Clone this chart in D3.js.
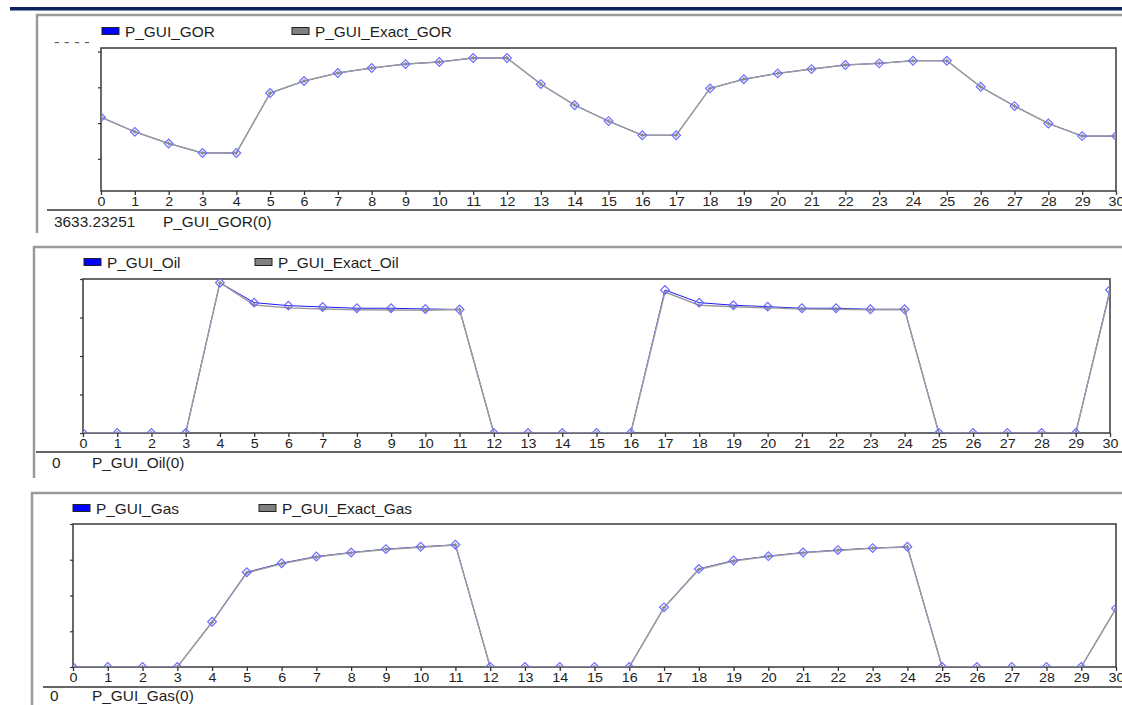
<!DOCTYPE html>
<html>
<head>
<meta charset="utf-8">
<script src="https://cdn.jsdelivr.net/npm/d3@7"></script>
<style>
  body { margin: 0; background: #fff; }
  svg { display: block; font-family: "Liberation Sans", Arial, sans-serif; }
</style>
</head>
<body>
<svg id="chart"></svg>
<script>
let width = 1122;
let height = 705;

// time steps on the x axis
const steps = [0, 1, 2, 3, 4, 5, 6, 7, 8, 9, 10, 11, 12, 13, 14, 15, 16, 17, 18, 19, 20, 21, 22, 23, 24, 25, 26, 27, 28, 29, 30];

// GOR (both series lie on top of each other)
const gorGui = [3633.23, 3551, 3486, 3433, 3433, 3768, 3835, 3880, 3908, 3930, 3942, 3964, 3964, 3818, 3700, 3611, 3532, 3532, 3794, 3845, 3878, 3902, 3925, 3934, 3949, 3949, 3803, 3695, 3598, 3527, 3527];
const gorExact = [3633.23, 3551, 3486, 3433, 3433, 3768, 3835, 3880, 3908, 3930, 3942, 3964, 3964, 3818, 3700, 3611, 3532, 3532, 3794, 3845, 3878, 3902, 3925, 3934, 3949, 3949, 3803, 3695, 3598, 3527, 3527];

// Oil
const oilGui = [0, 0, 0, 0, 1952, 1693, 1654, 1637, 1620, 1620, 1611, 1604, 0, 0, 0, 0, 0, 1857, 1693, 1659, 1641, 1620, 1620, 1607, 1607, 0, 0, 0, 0, 0, 1857];
const oilExact = [0, 0, 0, 0, 1952, 1663, 1625, 1610, 1600, 1597, 1595, 1604, 0, 0, 0, 0, 0, 1830, 1660, 1640, 1625, 1610, 1607, 1600, 1604, 0, 0, 0, 0, 0, 1845];

// Gas
const gasGui = [0, 0, 0, 0, 1264, 2652, 2904, 3090, 3202, 3298, 3362, 3419, 0, 0, 0, 0, 0, 1669, 2744, 2978, 3101, 3202, 3270, 3326, 3362, 0, 0, 0, 0, 0, 1640];
const gasExact = [0, 0, 0, 0, 1250, 2635, 2890, 3080, 3195, 3290, 3352, 3415, 0, 0, 0, 0, 0, 1660, 2728, 2966, 3092, 3195, 3262, 3320, 3358, 0, 0, 0, 0, 0, 1632];

// hidden y axis ranges (labels are not shown in the window)
const gorRange = [3220, 4020];
const oilRange = [0, 2000];
const gasRange = [0, 4000];

let svg = d3.select('#chart')
  .attr('width', width)
  .attr('height', height);

// navy strip at the top
svg.append("rect")
  .attr("x", 10).attr("y", 7)
  .attr("width", width - 10).attr("height", 3.5)
  .attr("fill", "#0c2461");

let panels = [
  {
    id: "gor", gui: gorGui, exact: gorExact, domain: gorRange,
    guiName: "P_GUI_GOR", exactName: "P_GUI_Exact_GOR", footValue: "3633.23251",
    frame: {x: 37, y: 15, bottom: 233},
    plot: {left: 101, top: 48, right: 1116, bottom: 191},
    legend: {y: 31, blueX: 102, grayX: 292},
    foot: {y: 210, x0: 47, valueX: 54, nameX: 163, textY: 227},
    stub: true
  },
  {
    id: "oil", gui: oilGui, exact: oilExact, domain: oilRange,
    guiName: "P_GUI_Oil", exactName: "P_GUI_Exact_Oil", footValue: "0",
    frame: {x: 34, y: 247, bottom: 478},
    plot: {left: 83, top: 279, right: 1110, bottom: 433},
    legend: {y: 262, blueX: 84, grayX: 255},
    foot: {y: 452, x0: 36, valueX: 52, nameX: 92, textY: 468}
  },
  {
    id: "gas", gui: gasGui, exact: gasExact, domain: gasRange,
    guiName: "P_GUI_Gas", exactName: "P_GUI_Exact_Gas", footValue: "0",
    frame: {x: 32, y: 493, bottom: 705},
    plot: {left: 73, top: 524, right: 1116, bottom: 667},
    legend: {y: 508, blueX: 73, grayX: 259},
    foot: {y: 687, x0: 43, valueX: 50, nameX: 92, textY: 701}
  }
];

// the window font is a bit wider than Arial
function wideText(sel, px, py, size) {
  return sel.append("text")
    .attr("transform", `translate(${px},${py}) scale(1.1,1)`)
    .attr("font-size", size)
    .attr("fill", "#1e1e1e");
}

function drawPanel(p) {
  let g = svg.append("g").attr("class", "panel-" + p.id);

  // window frame (left + top edges)
  g.append("path")
    .attr("d", `M${p.frame.x},${p.frame.bottom}V${p.frame.y}H${width}`)
    .attr("fill", "none")
    .attr("stroke", "#9a9a9a")
    .attr("stroke-width", 2.5);

  let x = d3.scaleLinear()
    .domain([steps[0], steps[steps.length - 1]])
    .range([p.plot.left, p.plot.right]);

  let y = d3.scaleLinear()
    .domain(p.domain)
    .range([p.plot.bottom, p.plot.top]);

  // legend
  let leg = [
    {name: p.guiName, color: "#0000ff", x: p.legend.blueX},
    {name: p.exactName, color: "#808080", x: p.legend.grayX}
  ];
  for (let d of leg) {
    g.append("rect")
      .attr("x", d.x).attr("y", p.legend.y - 3.5)
      .attr("width", 17).attr("height", 7)
      .attr("fill", d.color)
      .attr("stroke", "#222")
      .attr("stroke-width", 1);
    wideText(g, d.x + 23, p.legend.y + 5.5, 14).text(d.name);
  }

  if (p.stub) {
    wideText(g, 54, 47, 15).attr("fill", "#555").text("- - - -");
  }

  // plot box
  g.append("rect")
    .attr("x", p.plot.left).attr("y", p.plot.top)
    .attr("width", p.plot.right - p.plot.left)
    .attr("height", p.plot.bottom - p.plot.top)
    .attr("fill", "#fff")
    .attr("stroke", "#444")
    .attr("stroke-width", 1.6);

  // axes
  let xAxis = g.append("g")
    .attr("transform", `translate(0,${p.plot.bottom})`)
    .call(d3.axisBottom(x).tickValues(steps).tickFormat(d3.format("d")).tickSize(4).tickSizeOuter(0).tickPadding(2));
  xAxis.select(".domain").remove();
  xAxis.selectAll("line").attr("stroke", "#333").attr("stroke-width", 1.3);
  xAxis.selectAll("text")
    .attr("font-size", 13)
    .attr("fill", "#1e1e1e")
    .attr("transform", "scale(1.1,1)")
    .attr("font-family", "'Liberation Sans', Arial, sans-serif");

  let yAxis = g.append("g")
    .attr("transform", `translate(${p.plot.left},0)`)
    .call(d3.axisLeft(y).ticks(4).tickSize(3).tickFormat(""));
  yAxis.select(".domain").remove();
  yAxis.selectAll("line").attr("stroke", "#333").attr("stroke-width", 1.2);

  // footer line and status text
  g.append("line")
    .attr("x1", p.foot.x0).attr("x2", width)
    .attr("y1", p.foot.y).attr("y2", p.foot.y)
    .attr("stroke", "#333").attr("stroke-width", 1.5);
  wideText(g, p.foot.valueX, p.foot.textY, 14).text(p.footValue);
  wideText(g, p.foot.nameX, p.foot.textY, 14).text(p.guiName + "(0)");

  // clip the series to the plot box
  let clipId = "clip-" + p.id;
  g.append("clipPath").attr("id", clipId)
    .append("rect")
    .attr("x", p.plot.left).attr("y", p.plot.top)
    .attr("width", p.plot.right - p.plot.left)
    .attr("height", p.plot.bottom - p.plot.top);

  let series = g.append("g").attr("clip-path", `url(#${clipId})`);

  let line = d3.line()
    .x((d, i) => x(steps[i]))
    .y(d => y(d));

  series.append("path")
    .datum(p.gui)
    .attr("fill", "none")
    .attr("stroke", "#1a1aff")
    .attr("stroke-width", 1)
    .attr("d", line);

  series.append("path")
    .datum(p.exact)
    .attr("fill", "none")
    .attr("stroke", "#9c9c9c")
    .attr("stroke-width", 1.5)
    .attr("d", line);

  // exact markers: small gray crosses
  series.append("g").selectAll("path")
    .data(p.exact)
    .join("path")
      .attr("d", d3.symbol().type(d3.symbolCross).size(9)())
      .attr("transform", (d, i) => `translate(${x(steps[i])},${y(d)})`)
      .attr("fill", "#888");

  // gui markers: diamonds
  series.append("g").selectAll("path")
    .data(p.gui)
    .join("path")
      .attr("d", d3.symbol().type(d3.symbolSquare).size(38)())
      .attr("transform", (d, i) => `translate(${x(steps[i])},${y(d)}) rotate(45)`)
      .attr("fill", "none")
      .attr("stroke", "#6c6cff")
      .attr("stroke-width", 1.2);
}

for (let p of panels) {
  drawPanel(p);
}
</script>
</body>
</html>
